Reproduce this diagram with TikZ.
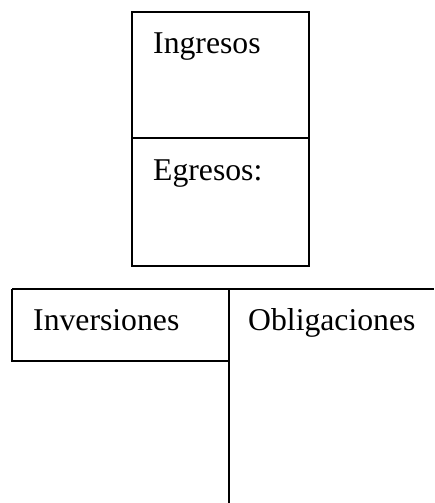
\documentclass[tikz,border=0pt]{standalone}
\usepackage{fontspec}
\setmainfont{Liberation Serif}
\begin{document}
\begin{tikzpicture}[x=1pt,y=-1pt,
  lbl/.style={anchor=base west,inner sep=0pt,font=\fontsize{31.7}{36}\selectfont},
  ln/.style={line width=1.1pt,black}]
\useasboundingbox (0,0) rectangle (434,503);
% top box
\coordinate (tA) at (132,12);
\coordinate (tB) at (309,266);
\coordinate (mL) at (132,138);
\coordinate (mR) at (309,138);
\draw[ln] (tA) rectangle (tB);
\draw[ln] (mL) -- (mR);
\node[lbl] (ing) at (153,53) {Ingresos};
\node[lbl] (egr) at (153,180) {Egresos:};
% bottom T account
\coordinate (bL) at (12,289);
\coordinate (bR) at (434,289);
\coordinate (bM) at (229,289);
\coordinate (bMb) at (229,503);
\coordinate (iBL) at (12,361);
\coordinate (iBR) at (229,361);
\draw[ln] (bL) -- (bR);
\draw[ln] (bM) -- (bMb);
\draw[ln] (bL) -- (iBL) -- (iBR);
\node[lbl] (inv) at (33,330.5) {Inversiones};
\node[lbl] (obl) at (248,330.5) {Obligaciones};
\end{tikzpicture}
\end{document}
